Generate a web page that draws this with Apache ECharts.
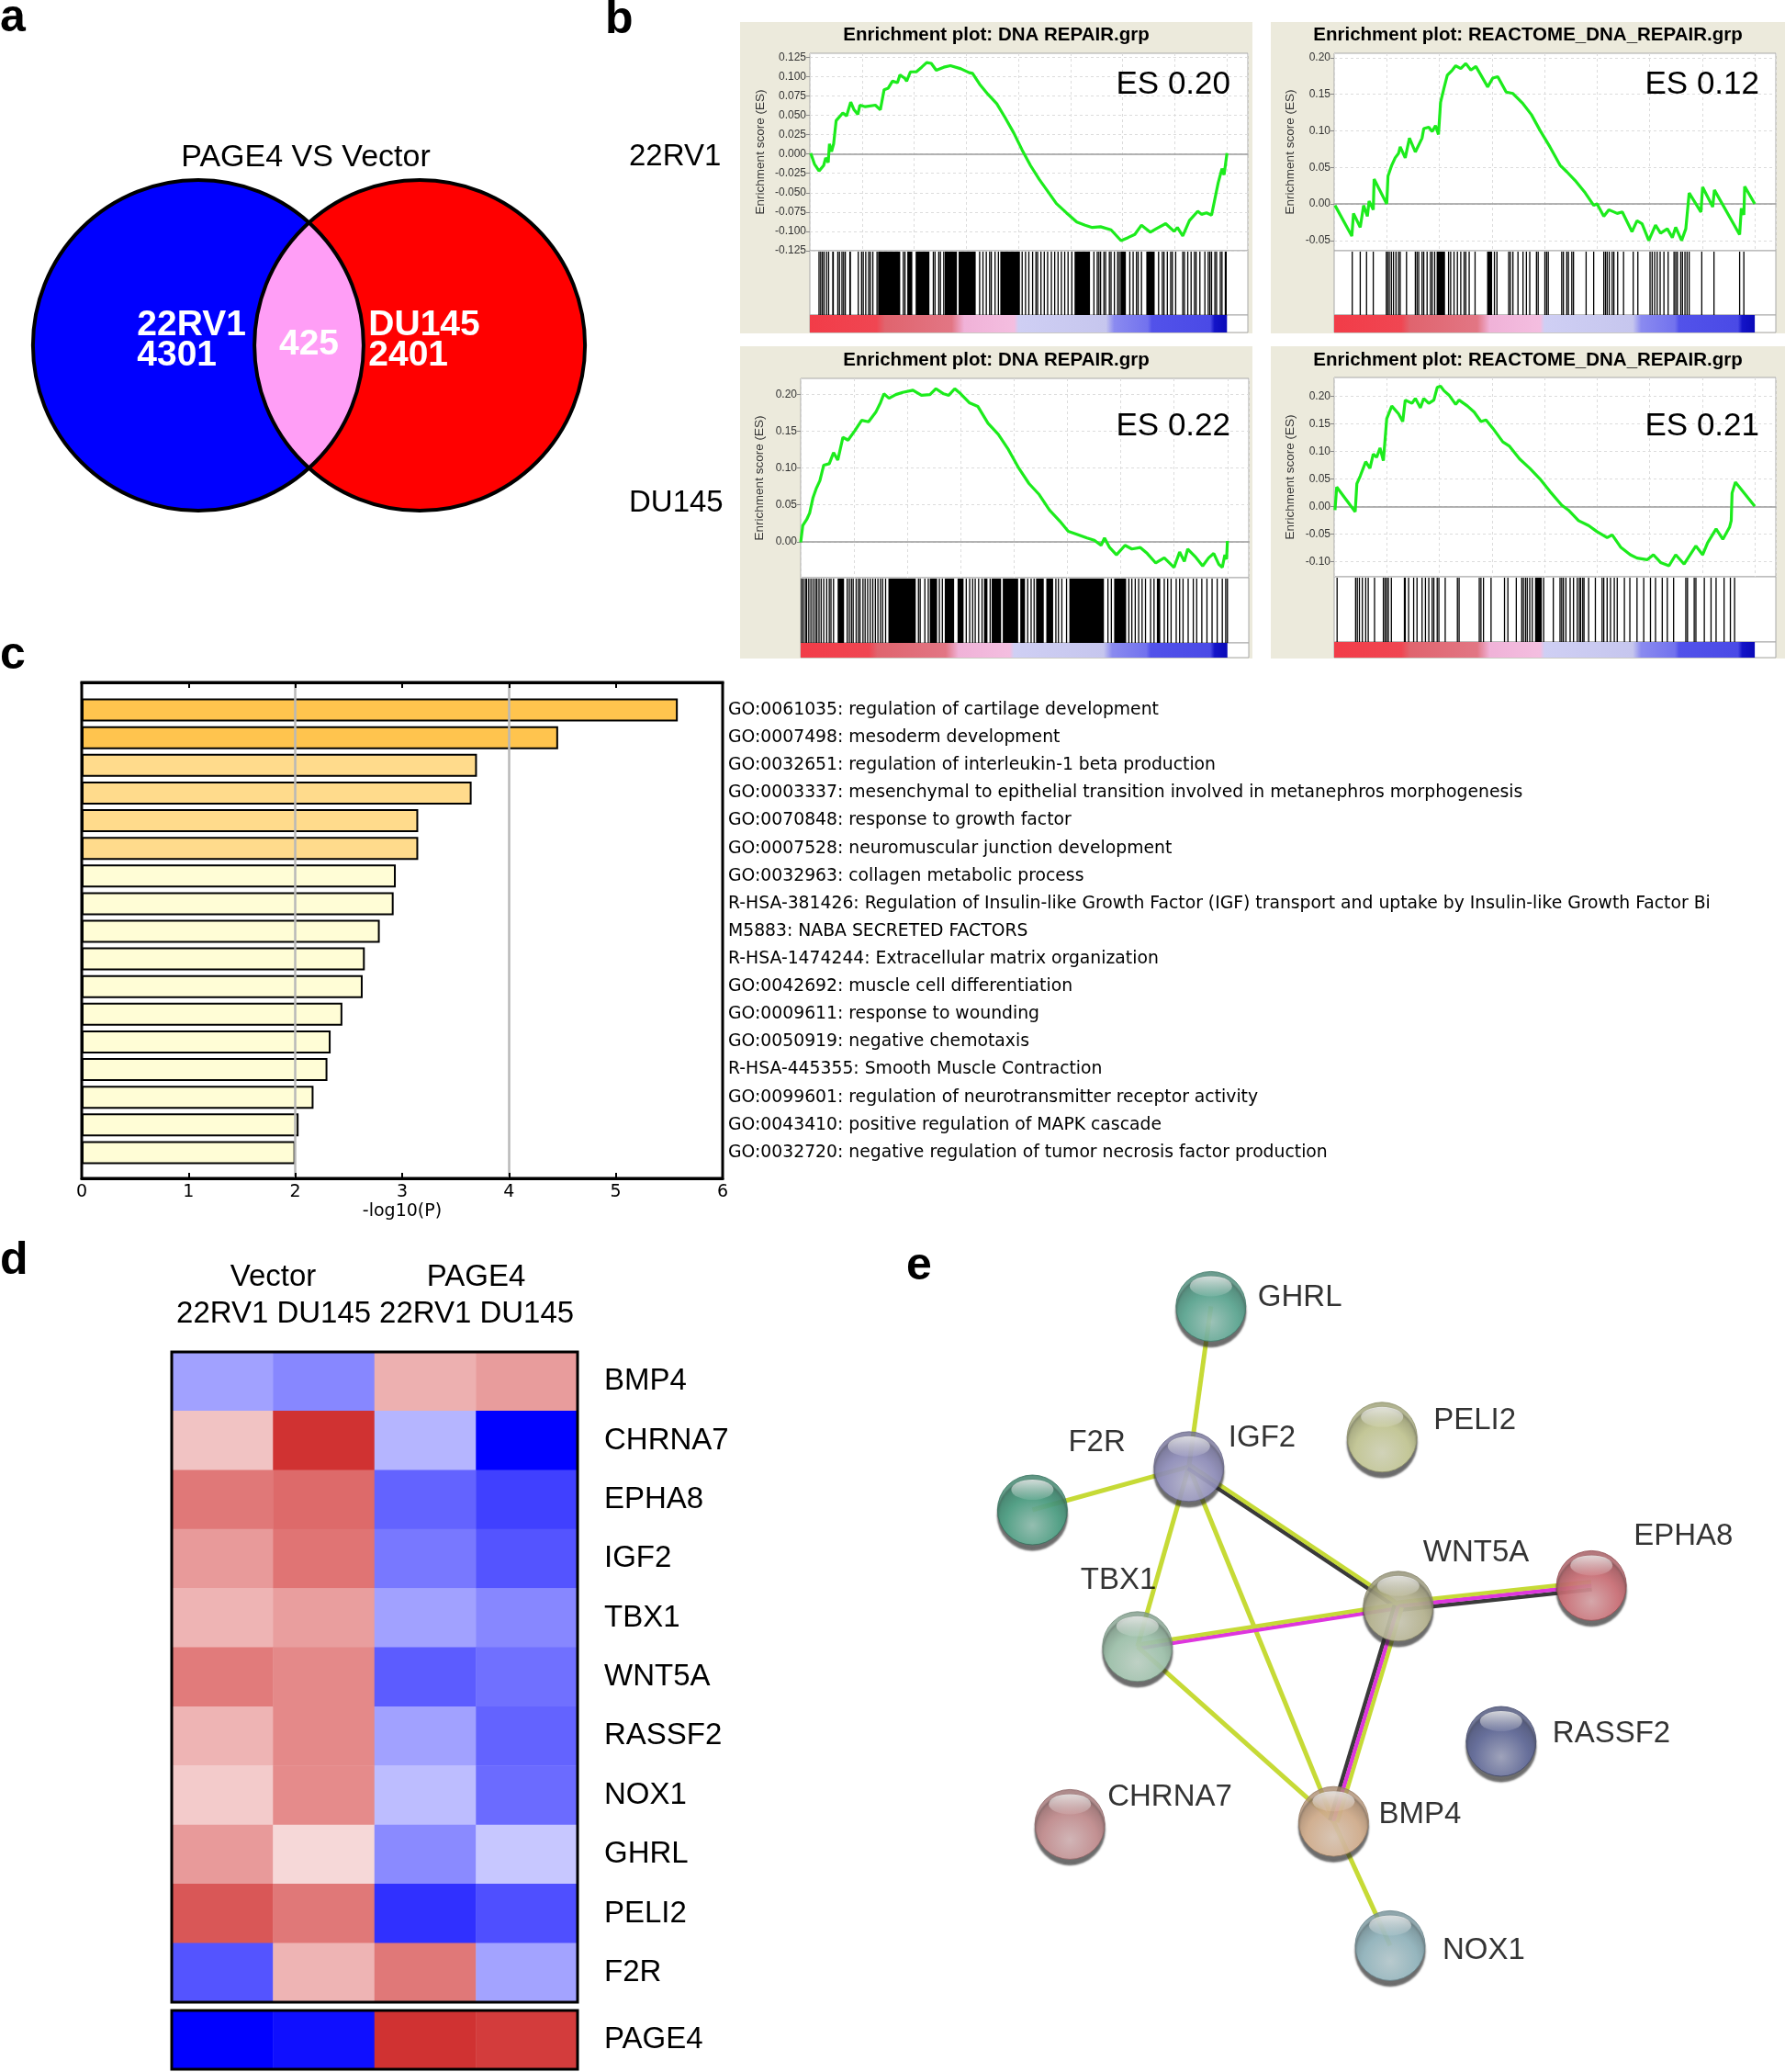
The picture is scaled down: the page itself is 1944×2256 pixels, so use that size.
<!DOCTYPE html>
<html><head><meta charset="utf-8">
<script src="https://cdn.jsdelivr.net/npm/echarts@6/dist/echarts.min.js"></script>
<style>html,body{margin:0;padding:0;background:#fff}#c{width:1944px;height:2256px}</style>
</head><body><div id="c"></div>
<script>
// ================= DATA =================
// Panel a: Venn
const vennSets = ['22RV1', 'DU145'];
const vennOnly = [4301, 2401];
const vennShared = 425;
const vennTitle = 'PAGE4 VS Vector';

// Panel b: GSEA (x = position in ranked list, % ; y = running enrichment score)
const gseaTitles = ['Enrichment plot: DNA REPAIR.grp', 'Enrichment plot: REACTOME_DNA_REPAIR.grp',
                    'Enrichment plot: DNA REPAIR.grp', 'Enrichment plot: REACTOME_DNA_REPAIR.grp'];
const gseaES = [0.20, 0.12, 0.22, 0.21];
const gseaRowLabels = ['22RV1', 'DU145'];
const gseaRange = [[-0.125, 0.130], [-0.064, 0.206], [-0.049, 0.222], [-0.128, 0.234]];
const gseaTicks1 = [-0.125, -0.1, -0.075, -0.05, -0.025, 0, 0.025, 0.05, 0.075, 0.1, 0.125];
const gseaTicks2 = [-0.05, 0, 0.05, 0.1, 0.15, 0.2];
const gseaTicks3 = [0, 0.05, 0.1, 0.15, 0.2];
const gseaTicks4 = [-0.1, -0.05, 0, 0.05, 0.1, 0.15, 0.2];
const gseaDecimals = [3, 2, 2, 2];

const es1 = [[0.2,0.001],[1.1,-0.013],[2.2,-0.022],[3.3,-0.015],[3.8,-0.005],[4.4,-0.011],[4.7,0.013],[5.2,0.003],[5.7,0.013],[6.3,0.043],[7.9,0.053],[8.8,0.049],[9.8,0.067],[10.6,0.057],[11.5,0.051],[12.0,0.063],[13.3,0.061],[15.7,0.063],[16.9,0.057],[17.8,0.083],[18.8,0.085],[19.8,0.094],[21.0,0.092],[21.6,0.102],[22.7,0.098],[23.2,0.094],[24.1,0.106],[25.5,0.106],[26.8,0.112],[28.0,0.118],[29.1,0.117],[30.3,0.108],[32.1,0.112],[33.7,0.114],[36.2,0.110],[38.2,0.105],[39.0,0.104],[40.7,0.090],[42.7,0.077],[44.8,0.065],[46.8,0.047],[48.9,0.027],[50.9,0.005],[52.9,-0.015],[55.0,-0.033],[57.0,-0.048],[59.1,-0.064],[61.5,-0.076],[64.0,-0.088],[66.0,-0.092],[67.7,-0.095],[69.7,-0.094],[72.2,-0.098],[74.6,-0.112],[76.3,-0.108],[77.9,-0.104],[79.5,-0.092],[81.6,-0.101],[83.2,-0.096],[85.3,-0.090],[87.3,-0.100],[88.1,-0.095],[89.4,-0.106],[91.0,-0.086],[93.0,-0.074],[93.9,-0.078],[95.1,-0.076],[96.3,-0.079],[97.1,-0.058],[97.9,-0.037],[98.8,-0.019],[99.3,-0.027],[100,0.001]];
const es2 = [[0.2,-0.002],[4.2,-0.044],[4.6,-0.013],[6.2,-0.032],[7.0,-0.002],[7.9,-0.017],[8.3,0.004],[9.3,-0.008],[9.5,0.034],[12.5,0.000],[12.8,0.038],[13.7,0.053],[14.5,0.063],[15.3,0.069],[15.7,0.078],[16.9,0.063],[17.9,0.090],[19.3,0.071],[20.9,0.090],[21.3,0.103],[22.5,0.105],[23.3,0.099],[24.1,0.107],[24.8,0.095],[25.3,0.139],[26.1,0.158],[26.9,0.176],[28.1,0.183],[28.9,0.189],[30.1,0.185],[31.3,0.192],[32.5,0.183],[33.7,0.188],[34.9,0.176],[36.5,0.160],[37.7,0.172],[38.9,0.174],[40.9,0.153],[42.5,0.151],[44.9,0.137],[46.9,0.122],[48.9,0.101],[51.3,0.078],[53.7,0.053],[55.3,0.044],[57.3,0.032],[59.7,0.015],[61.7,-0.002],[62.5,0.000],[64.1,-0.017],[65.3,-0.008],[67.3,-0.013],[68.5,-0.011],[70.8,-0.038],[72.0,-0.023],[73.2,-0.027],[74.8,-0.050],[76.4,-0.029],[77.6,-0.040],[79.2,-0.034],[80.4,-0.046],[81.2,-0.032],[82.6,-0.050],[83.6,-0.034],[84.4,0.015],[87.2,-0.011],[87.6,0.023],[90.0,-0.004],[90.4,0.019],[96.4,-0.042],[96.8,-0.006],[97.4,-0.015],[97.6,0.024],[100,0.000]];
const es3 = [[0,-0.001],[0.5,0.022],[1.4,0.030],[2.1,0.039],[2.9,0.060],[3.7,0.073],[4.5,0.083],[5.4,0.104],[6.7,0.106],[7.7,0.121],[8.7,0.111],[9.9,0.142],[11.1,0.138],[12.7,0.151],[14.3,0.165],[15.9,0.163],[17.6,0.176],[18.7,0.189],[19.5,0.201],[20.7,0.195],[22.3,0.200],[23.9,0.203],[26.3,0.206],[28.3,0.199],[30.3,0.200],[31.7,0.208],[33.5,0.201],[34.7,0.199],[36.1,0.208],[37.5,0.201],[39.5,0.189],[41.5,0.184],[43.9,0.161],[46.3,0.146],[48.7,0.125],[51.1,0.100],[53.5,0.079],[55.9,0.064],[58.3,0.043],[60.7,0.028],[62.7,0.014],[64.7,0.010],[67.1,0.005],[68.8,0.002],[70.4,-0.005],[71.2,0.005],[72.4,-0.008],[74.0,-0.018],[76.0,-0.005],[77.6,-0.010],[79.6,-0.008],[81.2,-0.016],[83.2,-0.029],[85.2,-0.022],[87.5,-0.035],[88.8,-0.014],[89.9,-0.027],[90.7,-0.010],[92.4,-0.020],[94.2,-0.033],[95.6,-0.022],[96.8,-0.016],[98.0,-0.031],[98.8,-0.035],[99.4,-0.018],[99.8,-0.024],[100,0.001]];
const es4 = [[0.2,-0.007],[0.6,0.035],[5.0,-0.010],[5.4,0.041],[6.2,0.055],[6.9,0.069],[7.5,0.081],[8.5,0.069],[9.3,0.095],[10.1,0.089],[10.9,0.106],[11.7,0.083],[12.5,0.159],[13.7,0.182],[15.3,0.168],[16.3,0.154],[16.9,0.193],[18.5,0.187],[19.3,0.196],[20.5,0.179],[21.3,0.196],[22.5,0.187],[23.7,0.193],[24.5,0.216],[25.3,0.218],[26.1,0.210],[27.3,0.202],[28.9,0.185],[29.7,0.193],[31.7,0.182],[33.3,0.171],[34.9,0.154],[36.1,0.157],[37.7,0.142],[40.1,0.117],[41.7,0.109],[44.1,0.086],[46.5,0.069],[48.9,0.050],[51.3,0.027],[54.1,0.002],[55.7,-0.007],[58.1,-0.026],[60.5,-0.035],[62.5,-0.046],[64.9,-0.057],[66.1,-0.052],[68.1,-0.074],[70.4,-0.088],[72.0,-0.094],[74.4,-0.097],[75.9,-0.088],[77.6,-0.102],[79.6,-0.108],[81.2,-0.088],[83.2,-0.105],[86.0,-0.072],[87.6,-0.088],[88.8,-0.066],[90.8,-0.041],[92.4,-0.060],[94.0,-0.038],[94.4,-0.026],[94.6,0.024],[95.4,0.044],[100,0.000]];

// gene-set hits (% of ranked list); [a,b] = dense run of hits
const hits1 = [2.2,2.6,3.0,3.4,4.0,4.5,[5.5,5.9],6.7,7.1,7.7,8.1,8.5,[9.6,10.0],11.6,12.4,12.8,13.4,14.1,14.5,15.1,16.1,[16.5,21.8],22.4,22.8,[23.5,24.7],[25.5,28.8],29.6,30.0,30.9,31.3,32.1,[32.5,35.4],[35.8,39.9],40.7,41.5,42.3,43.1,43.5,44.4,45.2,[45.8,50.5],50.9,51.7,52.5,53.4,54.2,54.6,55.4,56.2,57.0,57.9,58.7,59.5,60.3,61.1,61.9,62.8,[63.6,67.3],68.1,68.9,69.3,69.7,70.5,70.9,71.8,72.2,73.0,73.8,74.2,[74.6,75.9],76.7,77.5,78.3,78.7,79.5,[80.8,82.8],83.6,84.5,84.9,85.7,86.5,86.9,87.7,89.4,89.8,90.6,91.4,92.2,92.6,93.5,94.7,95.5,95.9,96.3,97.1,97.5,98.4,98.8,99.6,99.8];
const hits2 = [4.3,6.2,7.7,9.3,12.4,12.7,13.1,13.6,14.1,14.7,15.3,15.7,17.2,19.3,19.7,20.1,20.9,21.3,22.1,22.9,23.3,23.9,[24.5,26.5],27.2,27.7,28.5,29.3,30.1,30.9,31.3,32.1,33.5,[36.5,37.7],38.1,38.7,41.5,41.9,42.5,43.7,44.9,45.7,46.5,48.1,48.5,50.1,50.5,50.9,54.1,54.5,55.3,55.7,56.5,56.9,59.9,61.7,64.1,64.5,64.9,65.4,66.1,66.5,67.4,68.8,71.1,72.2,75.1,75.6,76.2,76.8,77.5,78.4,79.4,80.8,81.2,81.6,82.4,82.8,83.4,83.9,84.4,87.4,90.3,96.4,97.4];
const hits3 = [0.2,0.6,1.1,1.4,1.9,2.4,2.9,3.4,3.8,4.3,4.8,5.4,6.1,6.7,7.1,7.7,[8.8,10.3],10.9,11.4,11.9,12.3,13.0,13.5,13.9,14.6,15.1,15.7,16.3,16.9,17.5,18.1,18.7,19.2,19.9,[20.7,27.1],27.6,28.0,29.1,29.9,[30.4,32.1],32.5,33.2,[33.9,36.1],[36.9,38.3],38.8,39.6,40.3,40.9,41.7,42.5,[43.1,43.9],44.4,[44.9,47.1],[47.5,51.1],[51.6,52.7],53.2,54.0,54.7,[55.3,57.1],[57.7,59.3],59.8,60.4,61.2,62.3,[63.1,71.2],72.0,72.8,[73.6,76.4],76.9,77.6,78.4,79.2,80.0,80.8,82.0,82.8,[83.6,84.4],85.2,86.0,86.8,88.0,88.8,89.6,90.8,92.0,92.8,94.0,95.2,96.4,97.6,98.8,99.6,100];
const hits4 = [0.7,5.1,5.5,6.0,6.7,7.5,8.1,9.6,11.7,12.1,12.5,12.9,13.6,16.7,16.9,17.7,18.9,19.7,20.9,21.7,22.5,23.3,23.7,24.5,24.9,26.4,29.3,29.7,34.5,34.9,35.5,37.3,40.5,41.3,43.3,44.6,45.0,45.5,45.9,46.5,47.1,[47.9,49.5],49.8,52.1,53.7,54.1,54.5,55.1,56.1,56.9,57.8,58.3,58.6,59.1,59.4,60.5,62.1,63.7,64.1,64.9,65.7,66.6,67.3,69.0,70.3,72.0,73.6,75.2,76.4,78.0,79.2,80.7,83.6,84.0,85.6,86.0,88.0,89.6,90.8,92.7,94.2,95.2];
// ranked-list metric colour bar (fraction of list, colour)
const rankColors = [[0,'#F23C48'],[0.16,'#F04652'],[0.18,'#E0646E'],[0.34,'#E27684'],[0.37,'#F0B2D8'],[0.49,'#F4BEE0'],[0.5,'#CFCFF4'],[0.71,'#C6C6EE'],[0.73,'#8A8AF0'],[0.81,'#7272EE'],[0.82,'#5252EA'],[0.96,'#4A4AE6'],[0.97,'#1414C8'],[1,'#0A0AB8']];

// Panel c: enrichment bar chart
const goTerms = [
 'GO:0061035: regulation of cartilage development',
 'GO:0007498: mesoderm development',
 'GO:0032651: regulation of interleukin-1 beta production',
 'GO:0003337: mesenchymal to epithelial transition involved in metanephros morphogenesis',
 'GO:0070848: response to growth factor',
 'GO:0007528: neuromuscular junction development',
 'GO:0032963: collagen metabolic process',
 'R-HSA-381426: Regulation of Insulin-like Growth Factor (IGF) transport and uptake by Insulin-like Growth Factor Bi',
 'M5883: NABA SECRETED FACTORS',
 'R-HSA-1474244: Extracellular matrix organization',
 'GO:0042692: muscle cell differentiation',
 'GO:0009611: response to wounding',
 'GO:0050919: negative chemotaxis',
 'R-HSA-445355: Smooth Muscle Contraction',
 'GO:0099601: regulation of neurotransmitter receptor activity',
 'GO:0043410: positive regulation of MAPK cascade',
 'GO:0032720: negative regulation of tumor necrosis factor production'];
const goLogP = [5.58, 4.46, 3.70, 3.65, 3.15, 3.15, 2.94, 2.92, 2.79, 2.65, 2.63, 2.44, 2.33, 2.30, 2.17, 2.03, 2.00];
const goRefLines = [2, 4];
const goAxisName = '-log10(P)';

// Panel d: heatmap (row z-scores)
const heatGroups = ['Vector', 'PAGE4'];
const heatCols = ['22RV1', 'DU145', '22RV1', 'DU145'];
const heatGenes = ['BMP4','CHRNA7','EPHA8','IGF2','TBX1','WNT5A','RASSF2','NOX1','GHRL','PELI2','F2R'];
const heatZ = [
 [-0.74, -0.94,  0.76,  0.96],
 [ 0.58,  1.98, -0.58, -2.00],
 [ 1.30,  1.44, -1.22, -1.50],
 [ 0.98,  1.34, -1.06, -1.34],
 [ 0.72,  0.94, -0.74, -0.94],
 [ 1.28,  1.14, -1.28, -1.12],
 [ 0.72,  1.14, -0.74, -1.22],
 [ 0.50,  1.12, -0.52, -1.16],
 [ 0.98,  0.38, -0.92, -0.44],
 [ 1.62,  1.30, -1.62, -1.38],
 [-1.34,  0.72,  1.30, -0.72]];
const page4Label = 'PAGE4';
const page4Z = [-2.00, -1.88, 1.98, 1.88];

// Panel e: STRING network (layout units 0-100)
const netNodes = ['GHRL','PELI2','IGF2','F2R','WNT5A','EPHA8','TBX1','RASSF2','CHRNA7','BMP4','NOX1'];
const netX = [33.6, 56.9, 30.6,  9.3, 59.1, 85.4, 23.6, 73.1, 14.4, 50.3, 58.0];
const netY = [ 5.3, 23.1, 27.1, 33.0, 46.1, 43.3, 51.6, 64.5, 75.8, 75.4, 92.3];
const netEdges = [
 ['GHRL','IGF2',['textmining']],
 ['F2R','IGF2',['textmining']],
 ['IGF2','TBX1',['textmining']],
 ['IGF2','BMP4',['textmining']],
 ['IGF2','WNT5A',['coexpression','textmining']],
 ['TBX1','WNT5A',['experiments','textmining']],
 ['TBX1','BMP4',['textmining']],
 ['WNT5A','EPHA8',['coexpression','experiments','textmining']],
 ['WNT5A','BMP4',['coexpression','experiments','textmining']],
 ['BMP4','NOX1',['textmining']]];

// ================= STYLE / LAYOUT =================
const FA = '"Liberation Sans", Arial, Helvetica, sans-serif';
const FD = '"DejaVu Sans", Verdana, sans-serif';
const option = {animation:false, backgroundColor:'#fff', grid:[], xAxis:[], yAxis:[], series:[], visualMap:[], graphic:{elements:[]}};
function grid(g){ g.outerBoundsMode='none'; option.grid.push(g); return option.grid.length-1; }
function xa(a){ option.xAxis.push(a); return option.xAxis.length-1; }
function ya(a){ option.yAxis.push(a); return option.yAxis.length-1; }
function ser(s){ option.series.push(s); return option.series.length-1; }
function gText(x, y, text, font, align, valign, fill){
  align = align||'left'; valign = valign||'middle';
  option.graphic.elements.push({type:'text', x, y, z:100, silent:true,
    style:{text, font, fill:fill||'#000', textAlign:align, textVerticalAlign:valign, align, verticalAlign:valign}});
}
function gRect(x, y, w, h, fill){
  option.graphic.elements.push({type:'rect', z:-10, silent:true, shape:{x, y, width:w, height:h}, style:{fill}});
}

// panel letters
gText(0, 20, 'a', 'bold 50px '+FA);
gText(659, 22, 'b', 'bold 50px '+FA);
gText(0, 714, 'c', 'bold 50px '+FA);
gText(0, 1373, 'd', 'bold 50px '+FA);
gText(987, 1379, 'e', 'bold 50px '+FA);

// ---------- Panel a: Venn ----------
gText(333, 172, vennTitle, '34px '+FA, 'center');
const gV = grid({left:12.5, top:178, width:648, height:396});
const xV = xa({gridIndex:gV, type:'value', min:-1.8, max:1.8, show:false});
const yV = ya({gridIndex:gV, type:'value', min:-1.1, max:1.1, show:false});
const vennR = 1.0, vennD = 1.34;
ser({type:'custom', xAxisIndex:xV, yAxisIndex:yV, silent:true, data:[[0,0]], encode:{x:0,y:1},
  renderItem:(p, api) => {
    const r = api.size([vennR, vennR])[0];
    const cL = api.coord([-vennD/2, 0]), cR = api.coord([vennD/2, 0]);
    const a = (cR[0]-cL[0])/2, ang = Math.acos(a/r);
    const pts = [];
    for (let i=0;i<=40;i++){ const t=-ang+2*ang*i/40; pts.push([cL[0]+r*Math.cos(t), cL[1]+r*Math.sin(t)]); }
    for (let i=0;i<=40;i++){ const t=Math.PI-ang+2*ang*i/40; pts.push([cR[0]+r*Math.cos(t), cR[1]+r*Math.sin(t)]); }
    const tf = 'bold 39px '+FA;
    return {type:'group', children:[
      {type:'circle', shape:{cx:cL[0], cy:cL[1], r}, style:{fill:'#0000FF'}},
      {type:'circle', shape:{cx:cR[0], cy:cR[1], r}, style:{fill:'#FF0000'}},
      {type:'polygon', shape:{points:pts}, style:{fill:'#FF9EF6'}},
      {type:'circle', shape:{cx:cL[0], cy:cL[1], r}, style:{fill:null, stroke:'#000', lineWidth:4}},
      {type:'circle', shape:{cx:cR[0], cy:cR[1], r}, style:{fill:null, stroke:'#000', lineWidth:4}},
      {type:'text', x:cL[0]-0.37*r, y:cL[1]-5, style:{text:vennSets[0]+'\n'+vennOnly[0], fill:'#fff', font:tf, lineHeight:33, align:'left', verticalAlign:'middle', textAlign:'left', textVerticalAlign:'middle'}},
      {type:'text', x:(cL[0]+cR[0])/2, y:cL[1]-1, style:{text:String(vennShared), fill:'#fff', font:tf, align:'center', verticalAlign:'middle', textAlign:'center', textVerticalAlign:'middle'}},
      {type:'text', x:cR[0]-0.31*r, y:cR[1]-5, style:{text:vennSets[1]+'\n'+vennOnly[1], fill:'#fff', font:tf, lineHeight:33, align:'left', verticalAlign:'middle', textAlign:'left', textVerticalAlign:'middle'}}
    ]};
  }});

// ---------- Panel b: GSEA ----------
const gseaCurves = [es1, es2, es3, es4];
const gseaHits = [hits1, hits2, hits3, hits4];
const gseaTicks = [gseaTicks1, gseaTicks2, gseaTicks3, gseaTicks4];
const gseaLayout = [
 {panel:[806,24,558,339], es:[882,58,477,215], hits:[882,273,477,70], cb:[882,343,477,19], title:[1085,38], esText:[1340,92], nameGap:47},
 {panel:[1384,24,560,339], es:[1453,58,481,215], hits:[1453,273,481,70], cb:[1453,343,481,19], title:[1664,38], esText:[1916,92], nameGap:41},
 {panel:[806,377,558,340], es:[872,412,488,217], hits:[872,629,488,71], cb:[872,700,488,16], title:[1085,392], esText:[1340,464], nameGap:38},
 {panel:[1384,377,560,340], es:[1453,411,481,217], hits:[1453,628,481,71], cb:[1453,699,481,17], title:[1664,392], esText:[1916,464], nameGap:41}];
gText(685, 171, gseaRowLabels[0], '33px '+FA);
gText(685, 548, gseaRowLabels[1], '33px '+FA);
gseaLayout.forEach((L, k) => {
  gRect(L.panel[0], L.panel[1], L.panel[2], L.panel[3], '#ECEADC');
  gText(L.title[0], L.title[1], gseaTitles[k], 'bold 20.5px '+FA, 'center');
  gText(L.esText[0], L.esText[1], 'ES ' + gseaES[k].toFixed(2), '35px '+FA, 'right');
  const gE = grid({left:L.es[0], top:L.es[1], width:L.es[2], height:L.es[3], show:true, backgroundColor:'#fff', borderColor:'#a8a8a8', borderWidth:1});
  const xE = xa({gridIndex:gE, type:'value', min:0, max:105, interval:12.5, axisLabel:{show:false}, axisTick:{show:false},
    axisLine:{show:true, onZero:true, lineStyle:{color:'#9a9a9a', width:1.5}}, splitLine:{show:true, lineStyle:{color:'#dcdcdc', type:[3,3]}}});
  const yE = ya({gridIndex:gE, type:'value', min:gseaRange[k][0], max:gseaRange[k][1], axisLine:{show:false},
    axisTick:{show:true, length:4, customValues:gseaTicks[k], lineStyle:{color:'#888'}},
    axisLabel:{customValues:gseaTicks[k], formatter:v => Number(v).toFixed(gseaDecimals[k]), fontSize:12, color:'#333', margin:4, fontFamily:FA},
    splitLine:{show:true, lineStyle:{color:'#dcdcdc', type:[3,3]}},
    name:'Enrichment score (ES)', nameLocation:'middle', nameGap:L.nameGap, nameTextStyle:{fontSize:13.5, color:'#333', fontFamily:FA}});
  ser({type:'line', xAxisIndex:xE, yAxisIndex:yE, data:gseaCurves[k], showSymbol:false, symbol:'none', silent:true,
    lineStyle:{color:'#1CEB1C', width:3.2}, z:3});
  const gH = grid({left:L.hits[0], top:L.hits[1], width:L.hits[2], height:L.hits[3], show:true, backgroundColor:'#fff', borderColor:'#a8a8a8', borderWidth:1});
  const xH = xa({gridIndex:gH, type:'value', min:0, max:105, show:false});
  const yH = ya({gridIndex:gH, type:'value', min:0, max:1, show:false});
  ser({type:'custom', xAxisIndex:xH, yAxisIndex:yH, silent:true, encode:{x:[0,1], y:2},
    data: gseaHits[k].map(h => Array.isArray(h) ? [h[0], h[1], 0] : [h, h, 0]),
    renderItem:(p, api) => {
      const a = api.coord([api.value(0), 1]), b = api.coord([api.value(1), 0]);
      const w = Math.max(1.3, b[0]-a[0]);
      return {type:'rect', shape:{x:a[0]-0.65, y:a[1]+1, width:w, height:b[1]-a[1]-1}, style:{fill:'#000'}};
    }});
  const gC = grid({left:L.cb[0], top:L.cb[1], width:L.cb[2], height:L.cb[3], show:true, backgroundColor:'#fff', borderColor:'#a8a8a8', borderWidth:1});
  const xC = xa({gridIndex:gC, type:'value', min:0, max:105, show:false});
  const yC = ya({gridIndex:gC, type:'value', min:0, max:1, show:false});
  ser({type:'custom', xAxisIndex:xC, yAxisIndex:yC, silent:true, encode:{x:[0,1], y:2}, data:[[0, 100, 0]],
    renderItem:(p, api) => {
      const a = api.coord([api.value(0), 1]), b = api.coord([api.value(1), 0]);
      return {type:'rect', shape:{x:a[0], y:a[1], width:b[0]-a[0], height:b[1]-a[1]},
        style:{fill:new echarts.graphic.LinearGradient(0,0,1,0, rankColors.map(s => ({offset:s[0], color:s[1]})))}};
    }});
});

// ---------- Panel c: bar chart ----------
const gBox = grid({left:89, top:743, width:698, height:540, show:true, borderColor:'#000', borderWidth:3, z:5});
const xBox = xa({gridIndex:gBox, type:'value', min:0, max:6, interval:1, z:5,
  axisLine:{show:true, lineStyle:{color:'#000', width:3}}, axisTick:{show:true, inside:true, length:6, lineStyle:{color:'#000', width:2}},
  axisLabel:{fontFamily:FD, fontSize:19, color:'#000', margin:6}, splitLine:{show:false},
  name:goAxisName, nameLocation:'middle', nameGap:27, nameTextStyle:{fontFamily:FD, fontSize:19, color:'#000'}});
const xBoxTop = xa({gridIndex:gBox, type:'value', position:'top', min:0, max:6, interval:1, z:5,
  axisLine:{show:true, lineStyle:{color:'#000', width:3}}, axisTick:{show:true, inside:true, length:6, lineStyle:{color:'#000', width:2}},
  axisLabel:{show:false}, splitLine:{show:false}});
const yBox = ya({gridIndex:gBox, type:'value', min:0, max:1, show:false});
ser({type:'scatter', xAxisIndex:xBox, yAxisIndex:yBox, data:[[0,0]], symbolSize:0, silent:true, z:1,
  markLine:{silent:true, symbol:'none', label:{show:false}, lineStyle:{color:'#b8b8b8', width:2.5, type:'solid'},
    data: goRefLines.map(v => ({xAxis:v}))}});
const gBars = grid({left:89, top:758, width:698, height:512});
const xBars = xa({gridIndex:gBars, type:'value', min:0, max:6, show:false});
const yBars = ya({gridIndex:gBars, type:'category', data:goTerms, inverse:true, position:'right',
  axisLine:{show:false}, axisTick:{show:false}, axisLabel:{fontFamily:FD, fontSize:18.8, color:'#000', margin:6}});
const binColor = v => v >= 4 ? '#FFC44E' : (v >= 3 ? '#FFDB8C' : '#FFFDD6');
ser({type:'bar', xAxisIndex:xBars, yAxisIndex:yBars, silent:true, barWidth:25, z:3,
  data: goLogP.map(v => ({value:v, itemStyle:{color:binColor(v)}})),
  itemStyle:{borderColor:'#000', borderWidth:2}});

// ---------- Panel d: heatmap ----------
const gD1 = grid({left:187, top:1472, width:442, height:708, show:true, borderColor:'#000', borderWidth:3, z:10});
const xD1 = xa({gridIndex:gD1, type:'category', data:heatCols, position:'top', axisLine:{show:false}, axisTick:{show:false},
  axisLabel:{fontFamily:FA, fontSize:33, color:'#000', margin:25, interval:0}});
const xD1g = xa({gridIndex:gD1, type:'category', data:heatGroups, position:'top', offset:40, axisLine:{show:false}, axisTick:{show:false},
  axisLabel:{fontFamily:FA, fontSize:33, color:'#000', margin:25, interval:0}});
const yD1 = ya({gridIndex:gD1, type:'category', data:heatGenes, inverse:true, position:'right', axisLine:{show:false}, axisTick:{show:false},
  axisLabel:{fontFamily:FA, fontSize:33, color:'#000', margin:29, interval:0}});
const hm1 = ser({type:'heatmap', xAxisIndex:xD1, yAxisIndex:yD1, silent:true,
  data: heatZ.flatMap((row, r) => row.map((v, c) => [c, r, v]))});
const gD2 = grid({left:187, top:2189, width:442, height:64, show:true, borderColor:'#000', borderWidth:3, z:10});
const xD2 = xa({gridIndex:gD2, type:'category', data:heatCols, show:false});
const yD2 = ya({gridIndex:gD2, type:'category', data:[page4Label], position:'right', axisLine:{show:false}, axisTick:{show:false},
  axisLabel:{fontFamily:FA, fontSize:33, color:'#000', margin:29}});
const hm2 = ser({type:'heatmap', xAxisIndex:xD2, yAxisIndex:yD2, silent:true, data: page4Z.map((v, c) => [c, 0, v])});
option.visualMap.push({type:'continuous', show:false, min:-2, max:2, dimension:2, seriesIndex:[hm1, hm2],
  inRange:{color:['#0000FF', '#FFFFFF', '#D03030']}});

// ---------- Panel e: network ----------
const gE = grid({left:1050, top:1380, width:800, height:800});
const xN = xa({gridIndex:gE, type:'value', min:0, max:100, show:false});
const yN = ya({gridIndex:gE, type:'value', min:0, max:100, inverse:true, show:false});
const chanOrder = ['coexpression','experiments','textmining'];
const chanColor = {coexpression:'#3A3A3A', experiments:'#DE36DE', textmining:'#C6DA36'};
const idx = n => netNodes.indexOf(n);
ser({type:'custom', xAxisIndex:xN, yAxisIndex:yN, silent:true, z:1, encode:{x:[0,2], y:[1,3]},
  data: netEdges.map((e, i) => [netX[idx(e[0])], netY[idx(e[0])], netX[idx(e[1])], netY[idx(e[1])], i]),
  renderItem:(p, api) => {
    const a = api.coord([api.value(0), api.value(1)]), b = api.coord([api.value(2), api.value(3)]);
    const ch = netEdges[api.value(4)][2].slice().sort((u, v) => chanOrder.indexOf(u) - chanOrder.indexOf(v));
    const dx = b[0]-a[0], dy = b[1]-a[1], len = Math.hypot(dx, dy);
    const nx = -dy/len, ny = dx/len;
    const sp = 4.2, k = ch.length;
    return {type:'group', children: ch.map((c, i) => {
      const o = (i - (k-1)/2) * -sp;
      return {type:'line', shape:{x1:a[0]+nx*o, y1:a[1]+ny*o, x2:b[0]+nx*o, y2:b[1]+ny*o},
        style:{stroke:chanColor[c], lineWidth: k === 1 ? 5 : 4.4}};
    })};
  }});
const nodeColor = {GHRL:'#62B8A0', PELI2:'#D9DDA2', IGF2:'#9E9CCF', F2R:'#4FAE8E', WNT5A:'#CAC79E', EPHA8:'#E27880',
  TBX1:'#AFD8BE', RASSF2:'#6670A6', CHRNA7:'#D89A9C', BMP4:'#EAC09A', NOX1:'#A0C8D2'};
const labelOff = {GHRL:[51,-9], PELI2:[56,-18], IGF2:[43,-31], F2R:[39,-73], WNT5A:[27,-58], EPHA8:[46,-53],
  TBX1:[-62,-72], RASSF2:[56,-8], CHRNA7:[41,-29], BMP4:[49,-7], NOX1:[57,6]};
function mix(hex, t, target){
  const h = parseInt(hex.slice(1), 16); const r = h>>16, g = (h>>8)&255, b = h&255;
  const T = target === 'k' ? 0 : 255;
  const f = v => Math.round(v + (T - v) * t);
  return 'rgb(' + f(r) + ',' + f(g) + ',' + f(b) + ')';
}
ser({type:'scatter', xAxisIndex:xN, yAxisIndex:yN, silent:true, z:3, symbolSize:76,
  data: netNodes.map((n, i) => ({name:n, value:[netX[i], netY[i]],
    itemStyle:{color:new echarts.graphic.RadialGradient(0.5, 0.72, 0.7, [
        {offset:0, color:mix(nodeColor[n], 0.45)}, {offset:0.55, color:nodeColor[n]}, {offset:1, color:mix(nodeColor[n], 0.3, 'k')}]),
      borderColor:mix(nodeColor[n], 0.35, 'k'), borderWidth:1,
      shadowColor:'rgba(40,40,40,0.85)', shadowBlur:2, shadowOffsetY:6},
    label:{show:true, position:'inside', align:'left', verticalAlign:'middle', offset:labelOff[n],
      formatter:'{b}', fontFamily:FA, fontSize:33, color:'#000'}}))});
ser({type:'scatter', xAxisIndex:xN, yAxisIndex:yN, silent:true, z:4, symbol:'circle', symbolSize:[46, 22], symbolOffset:[0, -22],
  data: netNodes.map((n, i) => [netX[i], netY[i]]),
  itemStyle:{color:new echarts.graphic.LinearGradient(0,0,0,1,[{offset:0, color:'rgba(255,255,255,0.95)'},{offset:1, color:'rgba(255,255,255,0.12)'}])}});

const chart = echarts.init(document.getElementById('c'), null, {renderer:'canvas'});
chart.setOption(option);
</script></body></html>
